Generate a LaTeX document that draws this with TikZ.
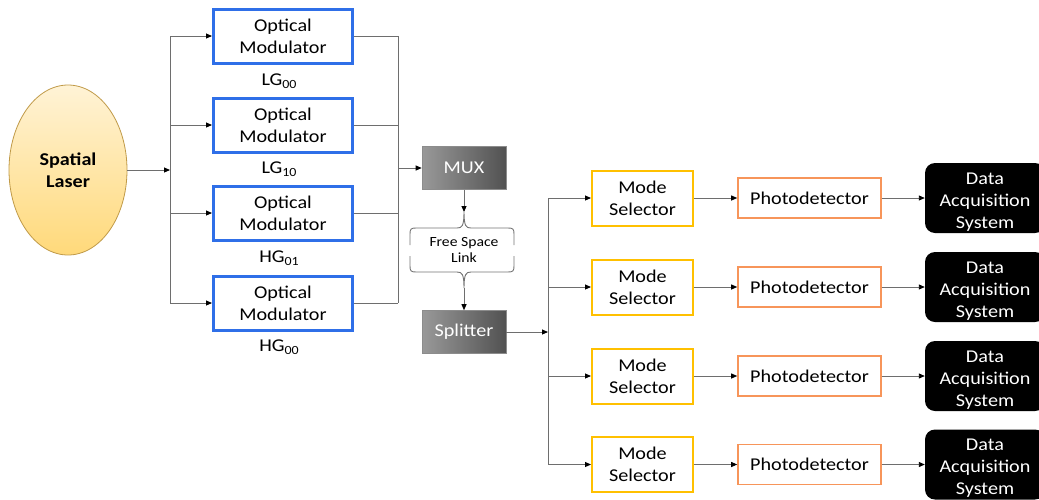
\documentclass[tikz,border=0pt]{standalone}
\usepackage{fontspec}
\setmainfont{Carlito}[FakeStretch=1.12]
\usetikzlibrary{shapes.geometric,arrows.meta,calc}
\definecolor{modblue}{HTML}{2F6FE8}
\definecolor{selgold}{HTML}{FFC000}
\definecolor{pdorange}{HTML}{F7955A}
\definecolor{lasertop}{HTML}{FFF3D6}
\definecolor{laserbot}{HTML}{FFD97A}
\definecolor{laseredge}{HTML}{C09A48}
\definecolor{wire}{HTML}{6E6E6E}
\newcommand{\mlab}[2]{#1\raisebox{-0.35ex}{\fontsize{12.5}{12.5}\selectfont #2}}
\begin{document}
\begin{tikzpicture}[x=1pt,y=-1pt,
  txt/.style={font=\fontsize{18}{22}\selectfont, align=center},
  laser/.style={ellipse, draw=laseredge, line width=0.8pt, top color=lasertop, bottom color=laserbot,
    minimum width=118pt, minimum height=170pt, inner sep=0pt, txt},
  modbox/.style={draw=modblue, line width=3pt, fill=white, minimum width=139pt, minimum height=54pt, inner sep=0pt, txt},
  graybox/.style={left color=black!40, right color=black!68, draw=black!45, line width=0.6pt,
    minimum width=84pt, minimum height=43pt, inner sep=0pt, txt, text=white},
  selbox/.style={draw=selgold, line width=2pt, fill=white, minimum width=101pt, minimum height=55pt, inner sep=0pt, txt},
  pdbox/.style={draw=pdorange, line width=1.6pt, fill=white, minimum width=143pt, minimum height=40pt, inner sep=0pt, txt},
  dasbox/.style={fill=black, rounded corners=10pt, minimum width=120pt, minimum height=70pt, inner sep=0pt, txt, text=white},
  modlabel/.style={font=\fontsize{18}{22}\selectfont},
  conn/.style={draw=wire, line width=0.9pt},
  arr/.style={conn, -{Triangle[length=6pt,width=5pt,color=black]}},
  bracepath/.style={draw=black!55, line width=0.9pt}
]
\useasboundingbox (0,0) rectangle (1039,499);

% source
\node[laser] (laser) at (68,170) {\textbf{Spatial}\\\textbf{Laser}};

% modulators and their mode labels
\node[modbox] (mod1) at (283,36)  {Optical\\Modulator};
\node[modbox] (mod2) at (283,125) {Optical\\Modulator};
\node[modbox] (mod3) at (283,213) {Optical\\Modulator};
\node[modbox] (mod4) at (283,303) {Optical\\Modulator};
\node[modlabel] (lab1) at (279,81)  {\mlab{LG}{00}};
\node[modlabel] (lab2) at (279,169) {\mlab{LG}{10}};
\node[modlabel] (lab3) at (279,258) {\mlab{HG}{01}};
\node[modlabel] (lab4) at (279,347) {\mlab{HG}{00}};

% multiplexer, link and splitter
\node[graybox] (mux) at (464,168) {MUX};
\node[graybox] (split) at (464,332) {Splitter};
\node[font=\fontsize{14}{16.5}\selectfont, align=center] (fsl) at (464,250) {Free Space\\Link};
\coordinate (btop) at (464,212);
\coordinate (bbot) at (464,288);

% receivers
\foreach \i/\y in {1/198,2/287,3/376,4/464.5}{
  \node[selbox] (ms\i) at (642.5,\y) {Mode\\Selector};
  \node[pdbox] (pd\i) at (809.5,\y) {Photodetector};
  \node[dasbox] (das\i) at (985,\y) {\rule{0pt}{19pt}Data\\Acquisition\\System};
}

% buses
\coordinate (lbus) at (170,0);
\coordinate (rbus) at (398,0);
\coordinate (sbus) at (548,0);

% laser feed and distribution to modulators
\draw[arr] (laser.east) -- (laser.east -| lbus);
\draw[conn] (mod1.west -| lbus) -- (mod4.west -| lbus);
\foreach \i in {1,...,4}{
  \draw[arr] (mod\i.west -| lbus) -- (mod\i.west);
  \draw[conn] (mod\i.east) -- (mod\i.east -| rbus);
}
\draw[conn] (mod1.east -| rbus) -- (mod4.east -| rbus);
\draw[arr] (mux.west -| rbus) -- (mux.west);

% free space link braces
\draw[bracepath] (410,245) -- (410,234) .. controls (410,229) and (411,228) .. (416,228)
  -- (457,228) .. controls (462,228) and (464,226) .. (btop)
  .. controls (464,226) and (466,228) .. (471,228)
  -- (508,228) .. controls (513,228) and (514,229) .. (514,234) -- (514,245);
\draw[bracepath] (410,256) -- (410,266) .. controls (410,271) and (411,272) .. (416,272)
  -- (457,272) .. controls (462,272) and (464,274) .. (bbot)
  .. controls (464,274) and (466,272) .. (471,272)
  -- (508,272) .. controls (513,272) and (514,271) .. (514,266) -- (514,256);
\draw[arr] (mux.south) -- (btop);
\draw[arr] (bbot) -- (split.north);

% splitter to mode selectors
\draw[arr] (split.east) -- (split.east -| sbus);
\draw[conn] (ms1.west -| sbus) -- (ms4.west -| sbus);
\foreach \i in {1,...,4}{
  \draw[arr] (ms\i.west -| sbus) -- (ms\i.west);
  \draw[arr] (ms\i.east) -- (pd\i.west);
  \draw[arr] (pd\i.east) -- (das\i.west);
}
\end{tikzpicture}
\end{document}
